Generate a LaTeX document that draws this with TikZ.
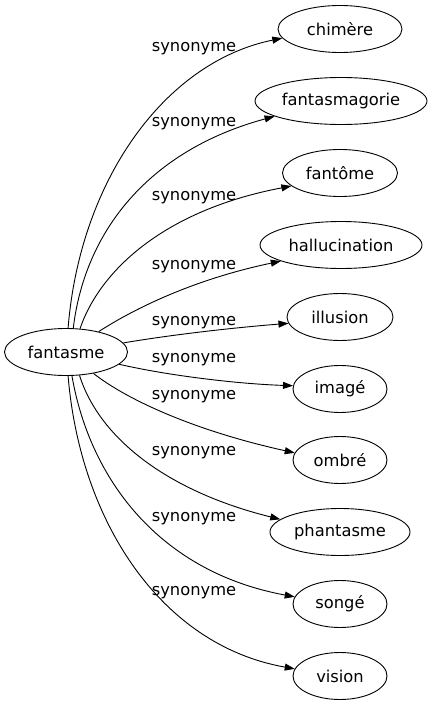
\documentclass[tikz,border=0pt]{standalone}
\usepackage{fontspec}
\setmainfont{DejaVu Sans}
\usetikzlibrary{shapes.geometric,arrows.meta}
\begin{document}
\begin{tikzpicture}[x=1pt,y=-1pt,
  word/.style={draw,ellipse,inner sep=0pt,minimum height=47pt,line width=0.9pt,font=\fontsize{16.3}{18}\selectfont},
  rel/.style={inner sep=0pt,font=\fontsize{16.3}{18}\selectfont},
  link/.style={line width=0.9pt,-{Triangle[length=10pt,width=7pt]}}]
\fill[white] (0,0) rectangle (433,707);
\useasboundingbox (0,0) rectangle (433,707);
\node[word,minimum width=123pt] (fantasme) at (66,352) {fantasme};
\node[word,minimum width=124pt] (chimere) at (340,29) {chimère};
\node[word,minimum width=172pt] (fantasmagorie) at (341,101) {fantasmagorie};
\node[word,minimum width=115pt] (fantome) at (340,173) {fantôme};
\node[word,minimum width=162pt] (hallucination) at (341,245) {hallucination};
\node[word,minimum width=106pt] (illusion) at (340,317) {illusion};
\node[word,minimum width=94pt] (image) at (340,389) {imagé};
\node[word,minimum width=94pt] (ombre) at (340,460) {ombré};
\node[word,minimum width=140pt] (phantasme) at (340,532) {phantasme};
\node[word,minimum width=94pt] (songe) at (340,604) {songé};
\node[word,minimum width=94pt] (vision) at (340,676) {vision};
\draw[link] (fantasme.85) .. controls (80,180) and (165,62) .. (chimere.189);
\draw[link] (fantasme.73) .. controls (85,230) and (150,150) .. (fantasmagorie.193);
\draw[link] (fantasme.59) .. controls (100,270) and (165,210) .. (fantome.195);
\draw[link] (fantasme.32) .. controls (140,305) and (200,278) .. (hallucination.195);
\draw[link] (fantasme.9) .. controls (170,335) and (230,328) .. (illusion.187);
\draw[link] (fantasme.-13) .. controls (170,376) and (240,384) .. (image.176);
\draw[link] (fantasme.-38) .. controls (130,402) and (200,432) .. (ombre.171);
\draw[link] (fantasme.-60) .. controls (100,440) and (170,492) .. (phantasme.168);
\draw[link] (fantasme.-76) .. controls (90,480) and (160,572) .. (songe.171);
\draw[link] (fantasme.-85) .. controls (80,520) and (160,645) .. (vision.171);
\node[rel] (l1) at (194,49) {synonyme};
\node[rel] (l2) at (194,124) {synonyme};
\node[rel] (l3) at (194,198) {synonyme};
\node[rel] (l4) at (194,267) {synonyme};
\node[rel] (l5) at (194,323) {synonyme};
\node[rel] (l6) at (194,360) {synonyme};
\node[rel] (l7) at (194,397) {synonyme};
\node[rel] (l8) at (194,453) {synonyme};
\node[rel] (l9) at (194,519) {synonyme};
\node[rel] (l10) at (194,593) {synonyme};
\end{tikzpicture}
\end{document}
